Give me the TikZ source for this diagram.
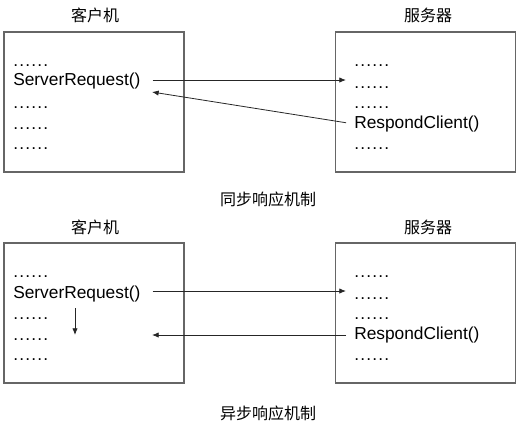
\documentclass[tikz,border=0pt]{standalone}
\usepackage{fontspec}
\setmainfont{Liberation Sans}
\newfontfamily\cjk{Noto Sans CJK SC}
\usetikzlibrary{arrows.meta}
\newcommand\etcdots{\makebox[4.5pt][l]{.}\makebox[4.5pt][l]{.}\makebox[4.5pt][l]{.}\makebox[4.5pt][l]{.}\makebox[4.5pt][l]{.}\makebox[4.5pt][l]{.}}

\begin{document}
\begin{tikzpicture}[x=0.75pt,y=-0.75pt]
        \tikzstyle{every node}=[inner sep=0pt, font=\fontsize{13}{15}\selectfont]
        \tikzstyle{box}=[draw=black!60, line width=1.1pt, minimum width=135pt, minimum height=105pt]
        \tikzstyle{title}=[font=\cjk\fontsize{12}{14}\selectfont]
        \tikzstyle{line}=[anchor=west]
        \tikzstyle{etc}=[anchor=base west]
        \tikzstyle{msg}=[-{Latex[length=5pt,width=4pt]}, line width=0.6pt, black!85]
        \useasboundingbox (0,0) rectangle (522,430);
        % synchronous
        \node[title] (cli1) at (95,15) {客户机};
        \node[title] (srv1) at (428,15) {服务器};
        \node[box] (cbox1) at (94,102) {};
        \node[box] (sbox1) at (425.5,102) {};
        \node[etc] (c1a) at (13,66) {\etcdots};
        \node[line] (req1) at (13,81.5) {ServerRequest()};
        \node[etc] (c1b) at (13,108) {\etcdots};
        \node[etc] (c1c) at (13,129) {\etcdots};
        \node[etc] (c1d) at (13,149) {\etcdots};
        \node[etc] (s1a) at (354,66) {\etcdots};
        \node[etc] (s1b) at (354,88) {\etcdots};
        \node[etc] (s1c) at (354,108) {\etcdots};
        \node[line] (rc1) at (354,124) {RespondClient()};
        \node[etc] (s1d) at (354,149) {\etcdots};
        \coordinate (go1) at (346,80);
        \coordinate (back1) at (152,92);
        \draw[msg, shorten <=12pt*0.75] (req1.east |- go1) -- (go1);
        \draw[msg, shorten <=8pt*0.75] (rc1.west) -- (back1);
        \node[title] (cap1) at (268,199) {同步响应机制};
        % asynchronous
        \node[title] (cli2) at (95,227) {客户机};
        \node[title] (srv2) at (428,227) {服务器};
        \node[box] (cbox2) at (94,313) {};
        \node[box] (sbox2) at (425.5,313) {};
        \node[etc] (c2a) at (13,277) {\etcdots};
        \node[line] (req2) at (13,294) {ServerRequest()};
        \node[etc] (c2b) at (13,319) {\etcdots};
        \node[etc] (c2c) at (13,340) {\etcdots};
        \node[etc] (c2d) at (13,360) {\etcdots};
        \node[etc] (s2a) at (354,277) {\etcdots};
        \node[etc] (s2b) at (354,299) {\etcdots};
        \node[etc] (s2c) at (354,319) {\etcdots};
        \node[line] (rc2) at (354,335.5) {RespondClient()};
        \node[etc] (s2d) at (354,360) {\etcdots};
        \coordinate (go2) at (346,291);
        \coordinate (wait2) at (75,308);
        \coordinate (back2) at (152,335);
        \draw[msg, shorten <=12pt*0.75] (req2.east |- go2) -- (go2);
        \draw[msg] (wait2) -- ++(0,27);
        \draw[msg, shorten <=8pt*0.75] (rc2.west |- back2) -- (back2);
        \node[title] (cap2) at (268,413) {异步响应机制};
\end{tikzpicture}
\end{document}
